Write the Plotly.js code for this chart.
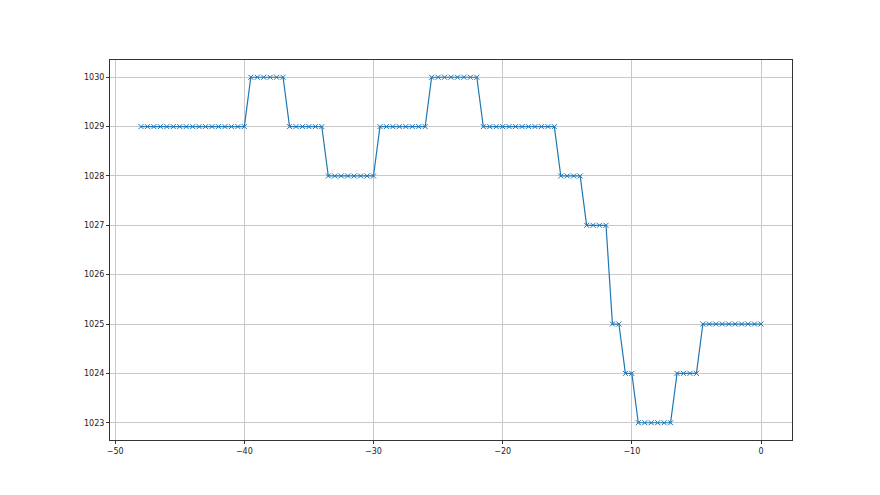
<!DOCTYPE html>
<html>
<head>
<meta charset="utf-8">
<script src="https://cdn.plot.ly/plotly-3.0.1.min.js"></script>
<style>html,body{margin:0;padding:0;background:#fff;}#chart{width:880px;height:495px;}</style>
</head>
<body>
<div id="chart"></div>
<script>
// Step levels: [start x, end x, value], sampled every 0.5
const segStarts = [-48, -39.5, -36.5, -33.5, -29.5, -25.5, -21.5, -15.5, -13.5, -11.5, -10.5, -9.5, -6.5, -4.5];
const segEnds   = [-40, -37,   -34,   -30,   -26,   -22,   -16,   -14,   -12,   -11,   -10,   -7,   -5,   0];
const segValues = [1029, 1030, 1029, 1028, 1029, 1030, 1029, 1028, 1027, 1025, 1024, 1023, 1024, 1025];
const xTicks = [-50, -40, -30, -20, -10, 0];
const yTicks = [1023, 1024, 1025, 1026, 1027, 1028, 1029, 1030];

const xs = [], ys = [];
for (let i = 0; i < segStarts.length; i++) {
  for (let v = segStarts[i]; v <= segEnds[i] + 1e-9; v += 0.5) {
    xs.push(v); ys.push(segValues[i]);
  }
}

const trace = {
  x: xs, y: ys, type: 'scatter', mode: 'lines+markers',
  line: {color: '#1f77b4', width: 1.2},
  marker: {symbol: 'x-thin', size: 5, color: '#1f77b4', line: {color: '#1f77b4', width: 1}},
  hoverinfo: 'skip'
};

const axisCommon = {
  showgrid: true, gridcolor: '#c8c8c8', gridwidth: 1,
  zeroline: false, showline: true, linecolor: '#333', linewidth: 1, mirror: true,
  ticks: 'outside', ticklen: 3, tickwidth: 1, tickcolor: '#333',
  tickfont: {family: 'DejaVu Sans', size: 8, color: '#222'}
};

const layout = {
  width: 880, height: 495,
  margin: {l: 110, r: 88, t: 60, b: 55},
  paper_bgcolor: '#fff', plot_bgcolor: '#fff',
  showlegend: false,
  xaxis: Object.assign({}, axisCommon, {range: [-50.4, 2.4], tickvals: xTicks, ticktext: xTicks.map(v => v < 0 ? '\u2212' + Math.abs(v) : String(v))}),
  yaxis: Object.assign({}, axisCommon, {range: [1022.65, 1030.35], tickvals: yTicks, ticktext: yTicks.map(String)})
};

Plotly.newPlot('chart', [trace], layout, {staticPlot: true, displayModeBar: false});
</script>
</body>
</html>
